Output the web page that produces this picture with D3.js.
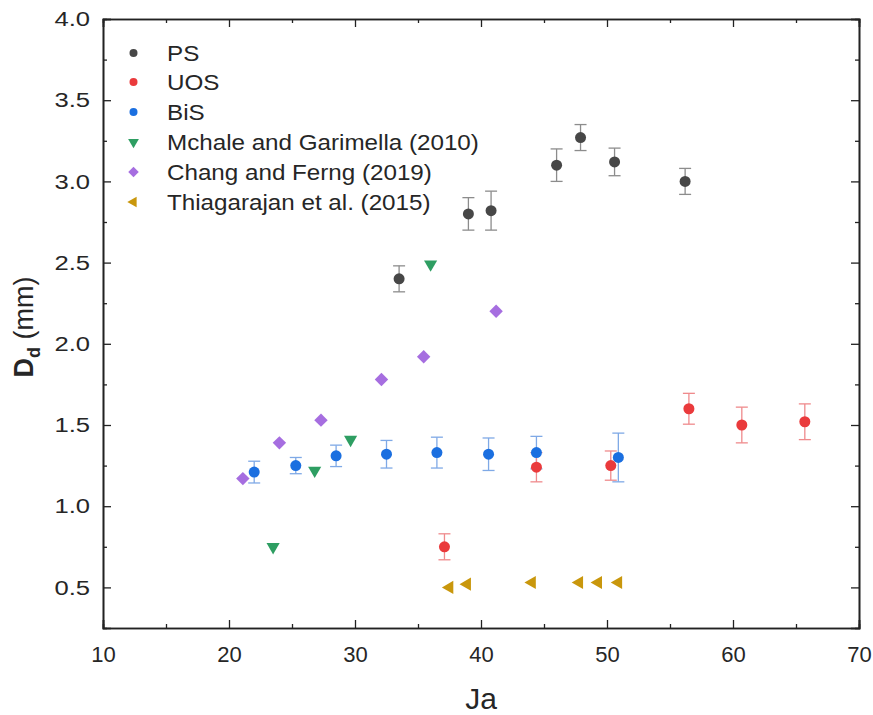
<!DOCTYPE html>
<html><head><meta charset="utf-8">
<script src="https://cdn.jsdelivr.net/npm/d3@7"></script>
<style>body{margin:0;background:#fff}svg{display:block}text{font-family:"Liberation Sans",Arial,sans-serif}</style>
</head><body><svg id="c" width="873" height="715"></svg>
<script>
const psX=[33.5,39.0,40.8,46.0,47.9,50.6,56.2];
const psY=[2.40,2.80,2.82,3.10,3.27,3.12,3.00];
const psE=[0.08,0.10,0.12,0.10,0.08,0.085,0.08];
const uosX=[37.1,44.4,50.3,56.5,60.7,65.7];
const uosY=[0.75,1.24,1.25,1.60,1.50,1.52];
const uosE=[0.08,0.09,0.09,0.095,0.11,0.11];
const bisX=[22.0,25.3,28.5,32.5,36.5,40.6,44.4,50.9];
const bisY=[1.21,1.25,1.31,1.32,1.33,1.32,1.33,1.30];
const bisE=[0.067,0.05,0.066,0.085,0.095,0.1,0.1,0.15];
const mgX=[23.5,26.8,29.65,36.0];
const mgY=[0.75,1.22,1.41,2.49];
const cfX=[21.1,24.0,27.3,32.1,35.45,41.2];
const cfY=[1.17,1.39,1.53,1.78,1.92,2.20];
const thX=[37.5,38.9,44.05,47.8,49.3,50.9];
const thY=[0.50,0.52,0.53,0.53,0.53,0.53];
const xTicks=[10,20,30,40,50,60,70];
const yTicks=[0.5,1.0,1.5,2.0,2.5,3.0,3.5,4.0];
const legendLabels=["PS","UOS","BiS","Mchale and Garimella (2010)","Chang and Ferng (2019)","Thiagarajan et al. (2015)"];

const svg=d3.select("#c");
const L=103,R=859,T=19,B=628;
const x=d3.scaleLinear().domain([10,70]).range([L,R]);
const y=d3.scaleLinear().domain([0.25,4.0]).range([B,T]);

const col={ps:"#474747",uos:"#ea3a3c",bis:"#1b6fe0",mg:"#2e9e62",cf:"#a66ee0",th:"#c9970c"};
const ecol={ps:"#8c8c8c",uos:"#ef8a8c",bis:"#7fa9e6"};
const txt="#262626";

// axes
svg.append("g").attr("class","xb").attr("transform",`translate(0,${B})`)
 .call(d3.axisBottom(x).tickValues(xTicks).tickSize(-8).tickPadding(18).tickFormat(d3.format("d")));
svg.append("g").attr("transform",`translate(0,${T})`)
 .call(d3.axisTop(x).tickValues(xTicks).tickSize(-8).tickFormat(""));
svg.append("g").attr("class","yl").attr("transform",`translate(${L},0)`)
 .call(d3.axisLeft(y).tickValues(yTicks).tickSize(-8).tickPadding(13).tickFormat(d3.format(".1f")));
svg.append("g").attr("transform",`translate(${R},0)`)
 .call(d3.axisRight(y).tickValues(yTicks).tickSize(-8).tickFormat(""));
// minor ticks
const xMin=d3.range(15,70,10), yMin=d3.range(0.75,4,0.5);
svg.append("g").attr("transform",`translate(0,${B})`).call(d3.axisBottom(x).tickValues(xMin).tickSize(-4).tickFormat(""));
svg.append("g").attr("transform",`translate(0,${T})`).call(d3.axisTop(x).tickValues(xMin).tickSize(-4).tickFormat(""));
svg.append("g").attr("transform",`translate(${L},0)`).call(d3.axisLeft(y).tickValues(yMin).tickSize(-4).tickFormat(""));
svg.append("g").attr("transform",`translate(${R},0)`).call(d3.axisRight(y).tickValues(yMin).tickSize(-4).tickFormat(""));
svg.selectAll(".domain").attr("stroke","#222").attr("stroke-width",1.6);
svg.selectAll(".tick line").attr("stroke","#222").attr("stroke-width",1.3);
svg.selectAll(".tick text").attr("fill",txt).attr("font-family","Liberation Sans, Arial, sans-serif");
svg.selectAll(".xb .tick text").attr("font-size",22);
const sy=1.22;
svg.selectAll(".yl .tick text").attr("font-size",21).each(function(){
  const t=d3.select(this); t.attr("x",+t.attr("x")/sy).attr("transform",`scale(${sy},1)`);
});

// axis titles
svg.append("text").attr("x",x(40)).attr("y",709).attr("text-anchor","middle").attr("font-size",30).attr("fill",txt).text("Ja");
const yt=svg.append("text").attr("transform",`translate(33,327) rotate(-90)`).attr("text-anchor","middle").attr("font-size",27).attr("fill",txt);
yt.append("tspan").attr("font-weight","bold").text("D");
yt.append("tspan").attr("font-size",18).attr("font-weight","bold").attr("dy",7).text("d");
yt.append("tspan").attr("dy",-7).text(" (mm)");

function errbars(xs,ys,es,c){
  const g=svg.append("g").attr("stroke",c).attr("stroke-width",1.3).attr("fill","none");
  xs.forEach((v,i)=>{
    const cx=x(v),y1=y(ys[i]+es[i]),y2=y(ys[i]-es[i]);
    g.append("line").attr("x1",cx).attr("x2",cx).attr("y1",y1).attr("y2",y2);
    g.append("line").attr("x1",cx-6).attr("x2",cx+6).attr("y1",y1).attr("y2",y1);
    g.append("line").attr("x1",cx-6).attr("x2",cx+6).attr("y1",y2).attr("y2",y2);
  });
}
function circles(xs,ys,c){
  svg.append("g").selectAll("circle").data(xs).join("circle")
    .attr("cx",d=>x(d)).attr("cy",(d,i)=>y(ys[i])).attr("r",5.5).attr("fill",c);
}
function sym(xs,ys,type,c,rot,size){
  svg.append("g").selectAll("path").data(xs).join("path")
    .attr("d",d3.symbol().type(type).size(size))
    .attr("transform",(d,i)=>`translate(${x(d)},${y(ys[i])}) rotate(${rot})`).attr("fill",c);
}
errbars(psX,psY,psE,ecol.ps);
errbars(bisX,bisY,bisE,ecol.bis);
errbars(uosX,uosY,uosE,ecol.uos);
circles(psX,psY,col.ps);
circles(bisX,bisY,col.bis);
circles(uosX,uosY,col.uos);
sym(mgX,mgY,d3.symbolTriangle,col.mg,180,75);
sym(cfX,cfY,d3.symbolDiamond2,col.cf,0,115);
sym(thX,thY,d3.symbolTriangle,col.th,-90,75);

// legend
const lg=svg.append("g");
const ly=[53,82,112,142,172,202];
const lc=[col.ps,col.uos,col.bis,col.mg,col.cf,col.th];
legendLabels.forEach((t,i)=>{
  const mx=133.5,my=ly[i];
  if(i<3) lg.append("circle").attr("cx",mx).attr("cy",my).attr("r",4).attr("fill",lc[i]);
  else {
    const ty=[d3.symbolTriangle,d3.symbolDiamond2,d3.symbolTriangle][i-3];
    const rot=[180,0,-90][i-3];
    const sz=[50,70,50][i-3];
    lg.append("path").attr("d",d3.symbol().type(ty).size(sz)).attr("transform",`translate(${mx},${my}) rotate(${rot})`).attr("fill",lc[i]);
  }
  lg.append("text").attr("transform",`translate(167,${my}) scale(1.1,1)`).attr("dy","0.36em").attr("font-size",22).attr("fill",txt).text(t);
});
</script></body></html>
